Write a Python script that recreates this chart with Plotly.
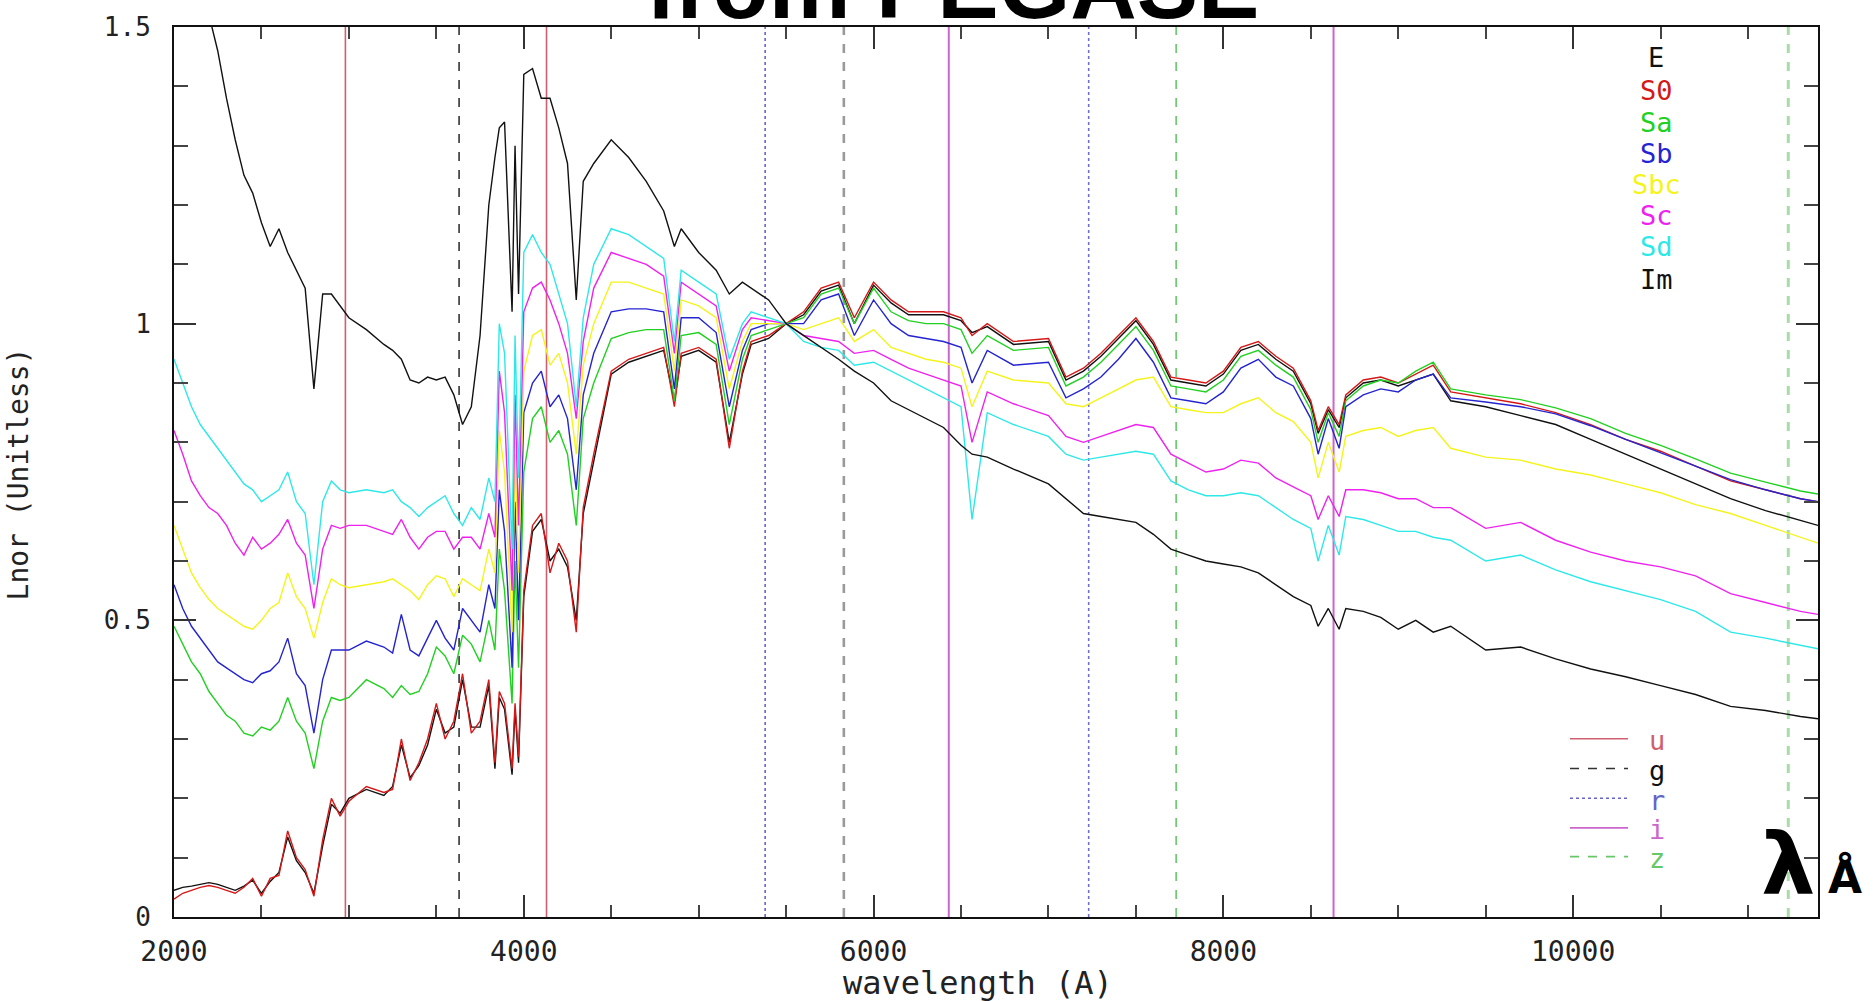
import plotly.graph_objects as go

# ---------------- data ----------------
wavelength = [
    2000, 2050, 2100, 2150, 2200, 2250, 2300, 2350, 2400, 2450, 2500, 2550, 2600, 2650, 2700, 2750, 2800, 2850, 2900, 2950,
    3000, 3100, 3200, 3250, 3300, 3350, 3400, 3450, 3500, 3550, 3600, 3650, 3700, 3750, 3800,
    3835, 3860, 3890, 3933, 3950, 3970, 4000,
    4050, 4100, 4150, 4200, 4250, 4300, 4340, 4400,
    4500, 4600, 4700, 4800, 4861, 4900, 5000, 5100, 5175, 5250, 5300, 5400, 5500,
    5600, 5700, 5800, 5890, 6000, 6100, 6200, 6300, 6400, 6500, 6563, 6650, 6800,
    7000, 7100, 7200, 7300, 7400, 7500, 7600, 7700, 7800, 7900, 8000,
    8100, 8200, 8300, 8400, 8500, 8542, 8600, 8662, 8700, 8800, 8900, 9000,
    9100, 9200, 9300, 9500, 9700, 9900, 10100, 10300, 10500, 10700, 10900, 11100, 11300, 11400,
]

flux_E = [
    0.045, 0.05, 0.052, 0.055, 0.058, 0.055, 0.05, 0.045, 0.052, 0.062, 0.04, 0.06, 0.075, 0.135, 0.095, 0.075, 0.04, 0.12, 0.19, 0.175,
    0.20, 0.215, 0.205, 0.22, 0.29, 0.235, 0.255, 0.29, 0.35, 0.31, 0.32, 0.40, 0.32, 0.32, 0.39,
    0.25, 0.37, 0.35, 0.24, 0.35, 0.26, 0.54,
    0.65, 0.67, 0.60, 0.62, 0.59, 0.50, 0.68, 0.77,
    0.915, 0.935, 0.945, 0.955, 0.87, 0.945, 0.955, 0.935, 0.80, 0.915, 0.965, 0.975, 1.0,
    1.015, 1.055, 1.065, 1.0, 1.065, 1.035, 1.015, 1.015, 1.015, 1.005, 0.985, 0.995, 0.965,
    0.97, 0.905, 0.92, 0.945, 0.975, 1.005, 0.965, 0.905, 0.9, 0.895, 0.915,
    0.955, 0.965, 0.94, 0.92, 0.865, 0.815, 0.855, 0.825, 0.875, 0.9, 0.905, 0.895,
    0.905, 0.915, 0.87, 0.86, 0.845, 0.83, 0.805, 0.78, 0.755, 0.73, 0.705, 0.685, 0.668, 0.66,
]
flux_S0 = [
    0.03, 0.04, 0.045, 0.05, 0.053, 0.05, 0.045, 0.04, 0.05, 0.065, 0.035, 0.065, 0.07, 0.145, 0.10, 0.08, 0.035, 0.13, 0.20, 0.17,
    0.195, 0.22, 0.21, 0.215, 0.30, 0.23, 0.26, 0.30, 0.36, 0.30, 0.33, 0.41, 0.31, 0.33, 0.40,
    0.26, 0.38, 0.36, 0.25, 0.36, 0.27, 0.55,
    0.66, 0.68, 0.58, 0.63, 0.60, 0.48, 0.69, 0.78,
    0.92, 0.94, 0.95, 0.96, 0.86, 0.95, 0.96, 0.94, 0.79, 0.92, 0.97, 0.98, 1.0,
    1.02, 1.06, 1.07, 1.01, 1.07, 1.04, 1.02, 1.02, 1.02, 1.01, 0.98, 1.0, 0.97,
    0.975, 0.91, 0.925, 0.95, 0.98, 1.01, 0.97, 0.91, 0.905, 0.90, 0.92,
    0.96, 0.97, 0.945, 0.925, 0.87, 0.82, 0.86, 0.83, 0.88, 0.905, 0.91, 0.90,
    0.915, 0.93, 0.885, 0.875, 0.865, 0.85, 0.83, 0.805, 0.785, 0.76, 0.735, 0.72, 0.705, 0.70,
]
flux_Sa = [
    0.49, 0.46, 0.43, 0.41, 0.38, 0.36, 0.34, 0.33, 0.31, 0.305, 0.32, 0.315, 0.33, 0.37, 0.33, 0.31, 0.25, 0.33, 0.37, 0.365,
    0.37, 0.40, 0.385, 0.37, 0.39, 0.375, 0.38, 0.41, 0.455, 0.44, 0.41, 0.475, 0.46, 0.43, 0.50,
    0.45, 0.62, 0.55, 0.36, 0.60, 0.42, 0.75,
    0.84, 0.86, 0.80, 0.82, 0.78, 0.66, 0.84, 0.90,
    0.975, 0.985, 0.99, 0.99, 0.87, 0.98, 0.985, 0.965, 0.83, 0.94, 0.98, 0.99, 1.0,
    1.01, 1.05, 1.06, 1.0, 1.06, 1.02, 1.005, 1.0, 1.0, 0.99, 0.95, 0.98, 0.955,
    0.96, 0.895, 0.91, 0.935, 0.965, 0.995, 0.955, 0.895, 0.89, 0.885, 0.905,
    0.945, 0.955, 0.93, 0.91, 0.855, 0.80, 0.85, 0.81, 0.87, 0.895, 0.905, 0.90,
    0.92, 0.935, 0.89, 0.88, 0.872, 0.858, 0.84, 0.815, 0.795, 0.772, 0.748, 0.733, 0.718, 0.713,
]
flux_Sb = [
    0.56, 0.52, 0.49, 0.47, 0.45, 0.43, 0.42, 0.41, 0.40, 0.395, 0.41, 0.415, 0.43, 0.47, 0.41, 0.39, 0.31, 0.40, 0.45, 0.45,
    0.45, 0.465, 0.455, 0.445, 0.51, 0.45, 0.44, 0.47, 0.50, 0.47, 0.45, 0.52, 0.50, 0.48, 0.56,
    0.52, 0.72, 0.65, 0.42, 0.70, 0.50, 0.85,
    0.90, 0.92, 0.86, 0.88, 0.84, 0.72, 0.88, 0.95,
    1.02, 1.025, 1.025, 1.02, 0.89, 1.01, 1.01, 0.985, 0.86, 0.955, 0.99, 1.0, 1.0,
    1.0, 1.04, 1.05, 0.98, 1.04, 1.0, 0.98, 0.975, 0.97, 0.96, 0.90, 0.955, 0.93,
    0.935, 0.875, 0.89, 0.91, 0.94, 0.975, 0.935, 0.875, 0.87, 0.865, 0.885,
    0.925, 0.94, 0.91, 0.895, 0.84, 0.78, 0.84, 0.79, 0.86, 0.88, 0.89, 0.885,
    0.905, 0.915, 0.875, 0.868, 0.86, 0.848, 0.828, 0.805, 0.783, 0.76, 0.737, 0.72, 0.705, 0.70,
]
flux_Sbc = [
    0.66, 0.62, 0.58, 0.555, 0.535, 0.52, 0.51, 0.50, 0.49, 0.485, 0.50, 0.52, 0.53, 0.58, 0.54, 0.52, 0.47, 0.53, 0.57, 0.56,
    0.555, 0.56, 0.565, 0.57, 0.56, 0.55, 0.535, 0.56, 0.575, 0.57, 0.54, 0.57, 0.56, 0.55, 0.62,
    0.58, 0.82, 0.75, 0.48, 0.78, 0.58, 0.92,
    0.98, 0.99, 0.93, 0.95, 0.90, 0.78, 0.93, 1.0,
    1.07, 1.07, 1.06, 1.05, 0.92, 1.04, 1.03, 1.01, 0.89, 0.97, 1.0, 1.0, 1.0,
    0.99, 1.0, 1.01, 0.97, 0.99, 0.96, 0.95, 0.94, 0.935, 0.925, 0.86, 0.92, 0.905,
    0.90, 0.865, 0.86, 0.875, 0.89, 0.905, 0.91, 0.86, 0.855, 0.85, 0.85,
    0.865, 0.875, 0.85, 0.835, 0.80, 0.74, 0.80, 0.75, 0.81, 0.82, 0.825, 0.81,
    0.82, 0.825, 0.79, 0.775, 0.77, 0.755, 0.745, 0.73, 0.715, 0.695, 0.68, 0.66, 0.64, 0.63,
]
flux_Sc = [
    0.82, 0.78, 0.735, 0.71, 0.69, 0.68, 0.66, 0.63, 0.61, 0.64, 0.62, 0.63, 0.645, 0.67, 0.63, 0.61, 0.52, 0.62, 0.66, 0.655,
    0.66, 0.66, 0.65, 0.645, 0.67, 0.64, 0.62, 0.64, 0.65, 0.65, 0.62, 0.64, 0.64, 0.62, 0.68,
    0.64, 0.92, 0.85, 0.55, 0.88, 0.66, 1.02,
    1.06, 1.07, 1.04, 1.0, 0.95, 0.84, 0.97, 1.06,
    1.12, 1.11, 1.10, 1.08, 0.95, 1.07, 1.05, 1.03, 0.92, 0.99, 1.01, 1.005, 1.0,
    0.98, 0.975, 0.97, 0.95, 0.955, 0.94, 0.925, 0.915, 0.905, 0.895, 0.80, 0.885, 0.865,
    0.845, 0.81, 0.80, 0.81, 0.82, 0.83, 0.825, 0.78, 0.765, 0.75, 0.755,
    0.77, 0.765, 0.74, 0.725, 0.71, 0.67, 0.71, 0.675, 0.72, 0.72, 0.715, 0.705,
    0.705, 0.69, 0.69, 0.655, 0.665, 0.635, 0.615, 0.60, 0.59, 0.575, 0.545, 0.53, 0.515, 0.51,
]
flux_Sd = [
    0.94, 0.90, 0.86, 0.83, 0.81, 0.79, 0.77, 0.75, 0.73, 0.72, 0.70, 0.71, 0.72, 0.75, 0.70, 0.68, 0.56, 0.70, 0.735, 0.72,
    0.715, 0.72, 0.715, 0.72, 0.70, 0.69, 0.675, 0.69, 0.70, 0.71, 0.68, 0.66, 0.69, 0.67, 0.74,
    0.70, 1.00, 0.95, 0.62, 0.98, 0.74, 1.12,
    1.15, 1.12, 1.10, 1.05, 1.00, 0.86, 1.01, 1.10,
    1.16, 1.15, 1.13, 1.11, 0.97, 1.09, 1.07, 1.05, 0.94, 1.0, 1.02, 1.01, 1.0,
    0.97, 0.96, 0.955, 0.93, 0.935, 0.92, 0.905, 0.89, 0.875, 0.86, 0.67, 0.85, 0.83,
    0.81, 0.78, 0.77, 0.775, 0.78, 0.785, 0.78, 0.735, 0.72, 0.71, 0.71,
    0.715, 0.71, 0.69, 0.67, 0.655, 0.60, 0.66, 0.61, 0.675, 0.67, 0.66, 0.65,
    0.65, 0.64, 0.635, 0.60, 0.61, 0.585, 0.565, 0.55, 0.535, 0.515, 0.48, 0.47, 0.458, 0.452,
]
flux_Im = [
    1.68, 1.64, 1.60, 1.56, 1.52, 1.46, 1.38, 1.31, 1.25, 1.22, 1.17, 1.13, 1.16, 1.12, 1.09, 1.06, 0.89, 1.05, 1.05, 1.03,
    1.01, 0.99, 0.965, 0.955, 0.94, 0.905, 0.90, 0.91, 0.905, 0.91, 0.88, 0.83, 0.86, 0.98, 1.20,
    1.28, 1.33, 1.34, 1.02, 1.30, 1.05, 1.42,
    1.43, 1.38, 1.38, 1.33, 1.27, 1.04, 1.24, 1.27,
    1.31, 1.28, 1.24, 1.19, 1.13, 1.16, 1.12, 1.09, 1.05, 1.07, 1.06, 1.04, 1.00,
    0.98, 0.96, 0.94, 0.92, 0.90, 0.87, 0.855, 0.84, 0.825, 0.795, 0.78, 0.775, 0.755,
    0.73, 0.705, 0.68, 0.675, 0.67, 0.665, 0.645, 0.62, 0.61, 0.60, 0.595,
    0.59, 0.58, 0.56, 0.54, 0.525, 0.49, 0.52, 0.485, 0.52, 0.515, 0.505, 0.485,
    0.50, 0.48, 0.49, 0.45, 0.455, 0.435, 0.418, 0.405, 0.39, 0.375, 0.355, 0.348, 0.338, 0.334,
]

galaxy_types = ["E", "S0", "Sa", "Sb", "Sbc", "Sc", "Sd", "Im"]
galaxy_flux = [flux_E, flux_S0, flux_Sa, flux_Sb, flux_Sbc, flux_Sc, flux_Sd, flux_Im]
galaxy_colors = ["#111111", "#d41818", "#22d022", "#2424d0", "#f4f41c", "#ee22ee", "#2ee8e8", "#111111"]

filter_names = ["u", "g", "r", "i", "z"]
filter_blue_edge = [2980, 3630, 5380, 6430, 7730]
filter_red_edge = [4130, 5830, 7230, 8630, 11230]
filter_colors = ["#d06070", "#333333", "#6464c8", "#cc66cc", "#66c866"]
filter_colors_red = ["#d06070", "#9a9a9a", "#7070c8", "#cc66cc", "#a8dca8"]
filter_dash = ["solid", "dash", "dot", "solid", "dash"]
filter_width_blue = [1.6, 1.6, 1.6, 2.0, 1.6]
filter_width_red = [1.6, 2.6, 1.6, 2.0, 3.0]

x_ticks = [2000, 4000, 6000, 8000, 10000]
x_ticktext = ["2000", "4000", "6000", "8000", "10000"]
y_ticks = [0, 0.5, 1, 1.5]
y_ticktext = ["0", "0.5", "1", "1.5"]

# ---------------- geometry (pixels) ----------------
W, H = 1873, 1001
L, R, T, B = 174, 1818, 18, 917
pw, ph = R - L, B - T


def px(x):
    return (x - L) / pw


def py(y):
    return (B - y) / ph


fig = go.Figure()

# filter edges
for k, name in enumerate(filter_names):
    for edge, col, wd in ((filter_blue_edge[k], filter_colors[k], filter_width_blue[k]),
                          (filter_red_edge[k], filter_colors_red[k], filter_width_red[k])):
        fig.add_trace(go.Scatter(
            x=[edge, edge], y=[0, 1.5], mode="lines",
            line=dict(color=col, width=wd, dash=filter_dash[k]),
            showlegend=False, hoverinfo="skip"))

# spectra
for name, flux, col in zip(galaxy_types, galaxy_flux, galaxy_colors):
    fig.add_trace(go.Scatter(
        x=wavelength, y=flux, mode="lines", name=name,
        line=dict(color=col, width=1.4), showlegend=False))

mono = "DejaVu Sans Mono"
annotations = []

# galaxy type legend (coloured text)
legend_y = [49, 82, 114, 146, 177, 208, 240, 273]
for name, col, yy in zip(galaxy_types, galaxy_colors, legend_y):
    annotations.append(dict(
        x=px(1656), y=py(yy), xref="paper", yref="paper", text=name, showarrow=False,
        xanchor="center", yanchor="middle", font=dict(family=mono, size=27, color=col)))

# filter legend
shapes = []
filter_leg_y = [737, 767, 797, 827, 856]
for name, col, dash, yy in zip(filter_names, filter_colors, filter_dash, filter_leg_y):
    shapes.append(dict(type="line", xref="paper", yref="paper",
                       x0=px(1570), x1=px(1628), y0=py(yy), y1=py(yy),
                       line=dict(color=col, width=1.6, dash=dash)))
    annotations.append(dict(
        x=px(1657), y=py(yy + 2), xref="paper", yref="paper", text=name, showarrow=False,
        xanchor="center", yanchor="middle",
        font=dict(family=mono, size=27, color=col if name != "g" else "#111111")))

# axis titles
annotations.append(dict(
    x=px(18), y=py(470), xref="paper", yref="paper", text="Lnor (Unitless)",
    showarrow=False, textangle=-90, xanchor="center", yanchor="middle",
    font=dict(family=mono, size=28, color="#222222")))
annotations.append(dict(
    x=px(978), y=py(984), xref="paper", yref="paper", text="wavelength (A)",
    showarrow=False, xanchor="center", yanchor="middle",
    font=dict(family=mono, size=32, color="#222222")))

# cut-off title at top
annotations.append(dict(
    x=px(952), y=py(30), xref="paper", yref="paper", text="<b>from PEGASE</b>",
    showarrow=False, xanchor="center", yanchor="bottom",
    font=dict(family="Liberation Sans", size=92, color="#000000")))

# lambda / angstrom marks
annotations.append(dict(
    x=px(1788), y=py(916), xref="paper", yref="paper", text="<b>λ</b>",
    showarrow=False, xanchor="center", yanchor="bottom",
    font=dict(family="DejaVu Sans", size=86, color="#000000")))
annotations.append(dict(
    x=px(1845), y=py(905), xref="paper", yref="paper", text="<b>Å</b>",
    showarrow=False, xanchor="center", yanchor="bottom",
    font=dict(family="DejaVu Sans", size=44, color="#000000")))

axis_common = dict(
    showgrid=False, zeroline=False, showline=True, linecolor="#111111", linewidth=2,
    mirror="ticks", ticks="inside", tickcolor="#333333", tickwidth=2,
)

fig.update_layout(
    width=W, height=H,
    margin=dict(l=L, r=W - R, t=T, b=H - B),
    paper_bgcolor="white", plot_bgcolor="white",
    showlegend=False,
    xaxis=dict(range=[2000, 11400], tickmode="array", tickvals=x_ticks, ticktext=x_ticktext,
               ticklen=22, ticklabelstandoff=8,
               tickfont=dict(family=mono, size=28, color="#222222"),
               minor=dict(dtick=500, tick0=2000, ticks="inside", ticklen=12,
                          tickcolor="#444444", tickwidth=2, showgrid=False),
               **axis_common),
    yaxis=dict(range=[0, 1.5], tickmode="array", tickvals=y_ticks, ticktext=y_ticktext,
               ticklen=22, ticklabelstandoff=16,
               tickfont=dict(family=mono, size=26, color="#222222"),
               minor=dict(dtick=0.1, tick0=0, ticks="inside", ticklen=14,
                          tickcolor="#444444", tickwidth=2, showgrid=False),
               **axis_common),
    annotations=annotations,
    shapes=shapes,
)

fig.write_html("out.html")
